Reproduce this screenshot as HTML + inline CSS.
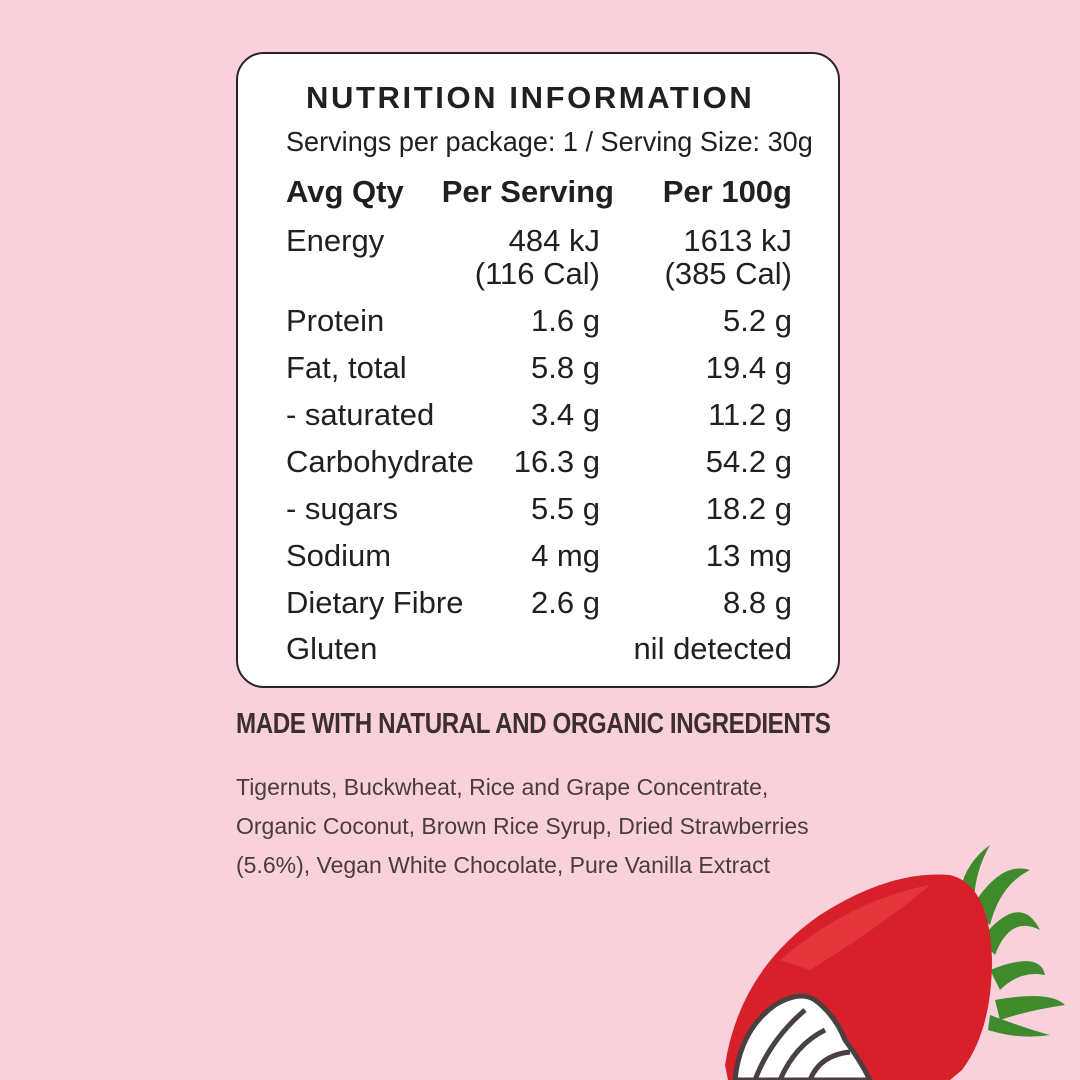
<!DOCTYPE html>
<html><head><style>
body{margin:0;width:1080px;height:1080px;background:#f9d1dd;position:relative;overflow:hidden;font-family:"Liberation Sans",sans-serif;color:#231f20}
.box{position:absolute;left:236px;top:52px;width:600px;height:632px;border:2.5px solid #2a2425;border-radius:28px;background:#fff}
.t{position:absolute;white-space:nowrap;font-size:31px;line-height:1}
.r{text-align:right}
.b{font-weight:bold}
.ing{position:absolute;left:236px;color:#4a3c3c;white-space:nowrap}
</style></head><body>
<div class="box"></div>
<div class="t b" style="left:306px;top:82px;font-size:31px;letter-spacing:2.6px;">NUTRITION INFORMATION</div>
<div class="t" style="left:286px;top:128px;font-size:28px;transform:scaleX(0.967);transform-origin:left">Servings per package: 1 / Serving Size: 30g</div>
<div class="t b" style="left:286px;top:176px">Avg Qty</div>
<div class="t b r" style="left:400px;width:214px;top:176px">Per Serving</div>
<div class="t b r" style="left:600px;width:192px;top:176px">Per 100g</div>
<div class="t" style="left:286px;top:225px">Energy</div>
<div class="t r" style="left:400px;width:200px;top:225px">484 kJ</div>
<div class="t r" style="left:400px;width:200px;top:258px">(116 Cal)</div>
<div class="t r" style="left:600px;width:192px;top:225px">1613 kJ</div>
<div class="t r" style="left:600px;width:192px;top:258px">(385 Cal)</div>
<div class="t" style="left:286px;top:305px">Protein</div><div class="t r" style="left:400px;width:200px;top:305px">1.6 g</div><div class="t r" style="left:600px;width:192px;top:305px">5.2 g</div>
<div class="t" style="left:286px;top:352px">Fat, total</div><div class="t r" style="left:400px;width:200px;top:352px">5.8 g</div><div class="t r" style="left:600px;width:192px;top:352px">19.4 g</div>
<div class="t" style="left:286px;top:399px">- saturated</div><div class="t r" style="left:400px;width:200px;top:399px">3.4 g</div><div class="t r" style="left:600px;width:192px;top:399px">11.2 g</div>
<div class="t" style="left:286px;top:446px">Carbohydrate</div><div class="t r" style="left:400px;width:200px;top:446px">16.3 g</div><div class="t r" style="left:600px;width:192px;top:446px">54.2 g</div>
<div class="t" style="left:286px;top:493px">- sugars</div><div class="t r" style="left:400px;width:200px;top:493px">5.5 g</div><div class="t r" style="left:600px;width:192px;top:493px">18.2 g</div>
<div class="t" style="left:286px;top:540px">Sodium</div><div class="t r" style="left:400px;width:200px;top:540px">4 mg</div><div class="t r" style="left:600px;width:192px;top:540px">13 mg</div>
<div class="t" style="left:286px;top:587px">Dietary Fibre</div><div class="t r" style="left:400px;width:200px;top:587px">2.6 g</div><div class="t r" style="left:600px;width:192px;top:587px">8.8 g</div>
<div class="t" style="left:286px;top:633px">Gluten</div><div class="t r" style="left:600px;width:192px;top:633px">nil detected</div>
<div class="ing b" style="top:708px;font-size:29px;color:#3e2f2f;letter-spacing:-0.5px;transform:scaleX(0.833);transform-origin:left">MADE WITH NATURAL AND ORGANIC INGREDIENTS</div>
<div class="ing" style="top:768px;font-size:23px;line-height:39px">Tigernuts, Buckwheat, Rice and Grape Concentrate,<br>Organic Coconut, Brown Rice Syrup, Dried Strawberries<br>(5.6%), Vegan White Chocolate, Pure Vanilla Extract</div>
<svg style="position:absolute;left:700px;top:830px" width="380" height="250">
<g fill="#3f8a2a">
<path d="M258 90 Q255 40 290 15 Q270 50 275 90Z"/>
<path d="M270 80 Q300 30 330 40 Q300 55 290 95Z"/>
<path d="M280 110 Q320 60 340 100 Q310 85 295 125Z"/>
<path d="M290 140 Q340 120 345 145 Q320 140 300 160Z"/>
<path d="M295 170 Q350 160 365 175 Q330 180 300 190Z"/>
<path d="M290 185 Q330 200 350 205 Q320 210 288 200Z"/>
</g>
<path d="M25 235 Q40 140 120 85 Q190 40 250 45 Q290 55 292 130 Q292 200 262 240 L250 250 L28 250Z" fill="#d8202a"/>
<path d="M80 130 Q150 70 230 55 Q190 90 110 140Z" fill="#f04a4a" opacity="0.5"/>
<path d="M35 250 Q40 200 75 175 Q100 160 115 170 Q135 185 145 210 Q160 230 170 250Z" fill="#fff" stroke="#4a4040" stroke-width="5"/>
<path d="M55 250 Q70 210 105 180 M80 250 Q95 215 125 200 M110 250 Q120 225 150 222" fill="none" stroke="#4a4040" stroke-width="5"/>
</svg>
</body></html>
